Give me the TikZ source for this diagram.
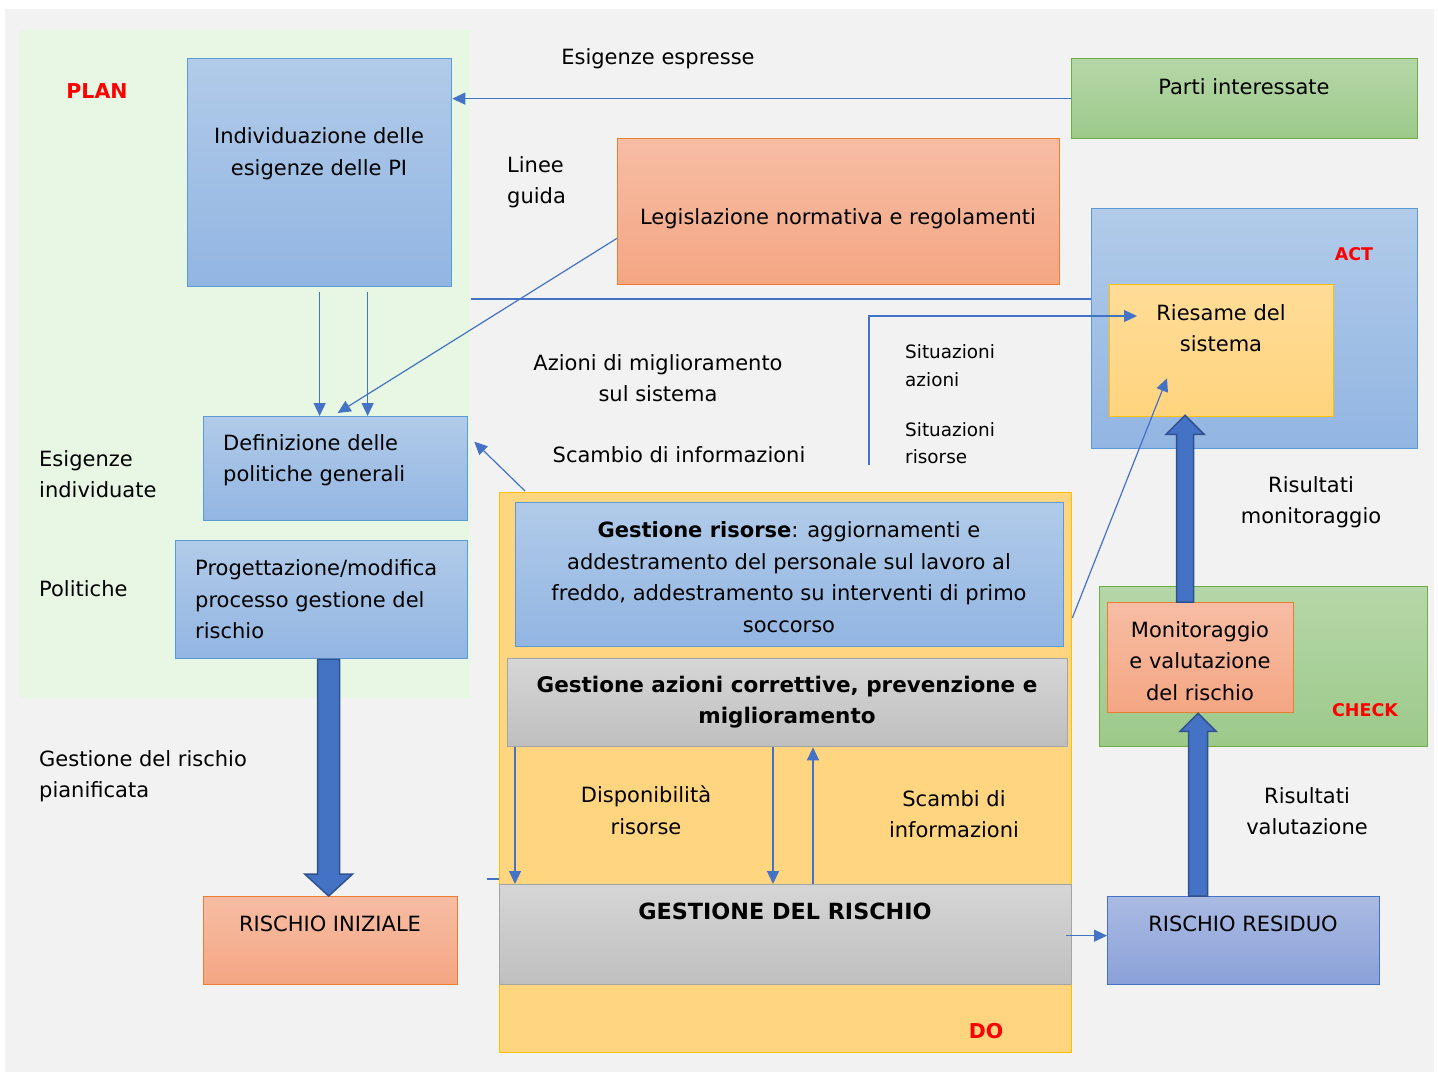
\documentclass[tikz,border=0pt]{standalone}
\usepackage{fontspec}
\setmainfont{DejaVu Sans}
\usetikzlibrary{arrows.meta,calc}
\definecolor{bgc}{HTML}{F2F2F2}
\definecolor{plang}{HTML}{E7F7E4}
\definecolor{blueT}{HTML}{B1CBE9}
\definecolor{blueB}{HTML}{92B5E2}
\definecolor{blueD}{HTML}{5B9BD5}
\definecolor{greenT}{HTML}{B5D7A8}
\definecolor{greenB}{HTML}{9CC98A}
\definecolor{greenD}{HTML}{70AD47}
\definecolor{orT}{HTML}{F7BDA4}
\definecolor{orB}{HTML}{F4A683}
\definecolor{orD}{HTML}{ED7D31}
\definecolor{yeT}{HTML}{FFDC97}
\definecolor{yeB}{HTML}{FFD47E}
\definecolor{yeD}{HTML}{FFC000}
\definecolor{doF}{HTML}{FFD580}
\definecolor{grT}{HTML}{D6D6D6}
\definecolor{grB}{HTML}{BFBFBF}
\definecolor{grD}{HTML}{A5A5A5}
\definecolor{puT}{HTML}{AABAE2}
\definecolor{puB}{HTML}{8AA1D8}
\definecolor{conn}{HTML}{4472C4}
\definecolor{connD}{HTML}{2F528F}
\definecolor{redl}{HTML}{FF0000}
\newcommand{\blockarr}[5]{%
  \coordinate (ba-b) at ($(#2)!#5!(#1)$);
  \filldraw[blockarrow] ($(#1)!#3!90:(#2)$) -- ($(ba-b)!#3!90:(#2)$) -- ($(ba-b)!#4!90:(#2)$) -- (#2)
    -- ($(ba-b)!#4!-90:(#2)$) -- ($(ba-b)!#3!-90:(#2)$) -- ($(#1)!#3!-90:(#2)$) -- cycle;}
\begin{document}
\begin{tikzpicture}[x=1pt,y=-1pt,
  box/.style={anchor=north west,inner sep=0pt,line width=1.3pt},
  bluebox/.style={box,draw=blueD,top color=blueT,bottom color=blueB},
  greenbox/.style={box,draw=greenD,top color=greenT,bottom color=greenB},
  orbox/.style={box,draw=orD,top color=orT,bottom color=orB},
  yebox/.style={box,draw=yeD,top color=yeT,bottom color=yeB},
  graybox/.style={box,draw=grD,top color=grT,bottom color=grB},
  pubox/.style={box,draw=conn,top color=puT,bottom color=puB},
  txt/.style={inner sep=0pt,align=center,yshift=-1.5pt,font=\fontsize{21}{31.5}\selectfont},
  ltxt/.style={txt,align=left,anchor=west},
  stxt/.style={inner sep=0pt,align=left,anchor=west,yshift=-1pt,font=\fontsize{18.4}{27.5}\selectfont},
  btxt/.style={txt,font=\fontsize{21.5}{31.5}\selectfont\bfseries},
  redtxt/.style={inner sep=0pt,text=redl,yshift=-1pt,font=\fontsize{20.5}{24}\selectfont\bfseries},
  cn/.style={draw=conn,line width=1.2pt},
  arr/.style={cn,-{Triangle[length=13pt,width=12pt]}},
  blockarrow/.style={fill=conn,draw=connD,line width=1.5pt,line join=miter}
]
\useasboundingbox (0,0) rectangle (1438,1072);
\fill[white] (0,0) rectangle (1438,1072);
\fill[bgc] (5,9) rectangle (1434,1072);
% areas
\node[box,fill=plang,minimum width=452pt,minimum height=668pt,line width=0pt] (plan) at (19,30) {};
\node[box,fill=doF,draw=yeD,minimum width=572pt,minimum height=560pt] (do) at (499,492) {};
\node[bluebox,minimum width=326pt,minimum height=240pt] (act) at (1091,208) {};
\node[greenbox,minimum width=328pt,minimum height=160pt] (check) at (1099,586) {};
% boxes
\node[bluebox,minimum width=264pt,minimum height=228pt] (ind) at (187,58) {};
\node[greenbox,minimum width=346pt,minimum height=80pt] (parti) at (1071,58) {};
\node[orbox,minimum width=442pt,minimum height=146pt] (leg) at (617,138) {};
\node[yebox,minimum width=224pt,minimum height=132pt] (ries) at (1109,284) {};
\node[bluebox,minimum width=264pt,minimum height=104pt] (def) at (203,416) {};
\node[bluebox,minimum width=292pt,minimum height=118pt] (prog) at (175,540) {};
\node[bluebox,minimum width=548pt,minimum height=144pt] (gris) at (515,502) {};
\node[graybox,minimum width=560pt,minimum height=88pt] (gaz) at (507,658) {};
\node[graybox,minimum width=572pt,minimum height=100pt] (gdr) at (499,884) {};
\node[orbox,minimum width=254pt,minimum height=88pt] (ini) at (203,896) {};
\node[pubox,minimum width=272pt,minimum height=88pt] (res) at (1107,896) {};
\node[orbox,minimum width=186pt,minimum height=110pt] (mon) at (1107,602) {};
% box texts
\node[txt] (tind) at (319,152) {Individuazione delle\\esigenze delle PI};
\node[txt] (tparti) at (1244,85) {Parti interessate};
\node[txt] (tleg) at (838,217) {Legislazione normativa e regolamenti};
\node[txt] (tries) at (1221,326.5) {Riesame del\\sistema};
\node[ltxt] (tdef) at (223,458.5) {Definizione delle\\politiche generali};
\node[ltxt] (tprog) at (195,598) {Progettazione/modifica\\processo gestione del\\rischio};
\node[txt] (tgris) at (789,575.5) {\textbf{Gestione risorse}: aggiornamenti e\\addestramento del personale sul lavoro al\\freddo, addestramento su interventi di primo\\soccorso};
\node[btxt] (tgaz) at (787,700.5) {Gestione azioni correttive, prevenzione e\\miglioramento};
\node[btxt,font=\fontsize{22.3}{31.5}\selectfont\bfseries] (tgdr) at (785,910) {GESTIONE DEL RISCHIO};
\node[txt] (tini) at (330,922) {RISCHIO INIZIALE};
\node[txt] (tres) at (1243,922) {RISCHIO RESIDUO};
\node[txt] (tmon) at (1200,659.5) {Monitoraggio\\e valutazione\\del rischio};
% phase labels
\node[redtxt] (lplan) at (97,90) {PLAN};
\node[redtxt,font=\fontsize{17.5}{20}\selectfont\bfseries] (lact) at (1354,253) {ACT};
\node[redtxt,font=\fontsize{17.5}{20}\selectfont\bfseries] (lcheck) at (1365,709) {CHECK};
\node[redtxt] (ldo) at (986,1030) {DO};
% free labels
\node[txt] (lesp) at (658,57) {Esigenze espresse};
\node[ltxt] (llin) at (507,180.5) {Linee\\guida};
\node[txt] (lazm) at (658,376.5) {Azioni di miglioramento\\sul sistema};
\node[txt] (lsca) at (679,453) {Scambio di informazioni};
\node[stxt] (lsit1) at (905,364.5) {Situazioni\\azioni};
\node[stxt] (lsit2) at (905,442) {Situazioni\\risorse};
\node[ltxt] (lesi) at (39,472.5) {Esigenze\\individuate};
\node[ltxt] (lpol) at (39,587) {Politiche};
\node[ltxt] (lgrp) at (39,774.5) {Gestione del rischio\\pianificata};
\node[txt] (lrmo) at (1311,500.5) {Risultati\\monitoraggio};
\node[txt] (ldis) at (646,808.5) {Disponibilità\\risorse};
\node[txt] (lsci) at (954,812.5) {Scambi di\\informazioni};
\node[txt] (lrva) at (1307,809.5) {Risultati\\valutazione};
% thin connectors
\draw[arr] (parti.west) -- (ind.east |- parti.west);
\draw[arr] ($(ind.south)+(0,5)$) -- (ind.south |- def.north);
\draw[arr] ($(ind.south)+(48,5)$) -- ($(ind.south |- def.north)+(48,0)$);
\draw[arr] ($(leg.south west)+(0,-47)$) -- ($(def.north)+(2,-3)$);
\coordinate (hl) at ($(act.north west)+(0,91)$);
\draw[cn] (hl) -- (plan.east |- hl);
\coordinate (sit0) at (869,465);
\coordinate (sit1) at ($(ries.north west)+(28,32)$);
\draw[arr] (sit0) |- (sit1);
\draw[arr] ($(do.north west)+(26,-1)$) -- ($(def.east)+(6,-27)$);
\draw[arr] ($(do.north east)+(0,126)$) -- ($(ries.south west)+(58,-39)$);
\draw[arr] ($(gaz.south west)+(8,0)$) -- ($(gaz.south west |- gdr.north)+(8,0)$);
\draw[arr] ($(gaz.south west)+(266,0)$) -- ($(gaz.south west |- gdr.north)+(266,0)$);
\draw[arr] ($(gdr.north west)+(314,0)$) -- ($(gaz.south west)+(306,0)$);
\draw[cn] ($(gdr.north west)+(-12,-5)$) -- ($(gdr.north west)+(0,-5)$);
\coordinate (g1) at ($(gdr.east)+(-6,1)$);
\draw[arr] (g1) -- (res.west |- g1);
% block arrows
\coordinate (ba1s) at ($(prog.south)+(7,0)$);
\coordinate (ba1e) at (ba1s |- ini.north);
\blockarr{ba1s}{ba1e}{11pt}{24pt}{22pt}
\coordinate (ba2s) at ($(res.north west)+(91,0)$);
\coordinate (ba2e) at (ba2s |- mon.south);
\blockarr{ba2s}{ba2e}{9.5pt}{18pt}{18pt}
\coordinate (ba3s) at ($(mon.north west)+(78,0)$);
\coordinate (ba3e) at ($(ba3s |- ries.south)+(0,-2)$);
\blockarr{ba3s}{ba3e}{8.5pt}{19pt}{19pt}
\end{tikzpicture}
\end{document}
